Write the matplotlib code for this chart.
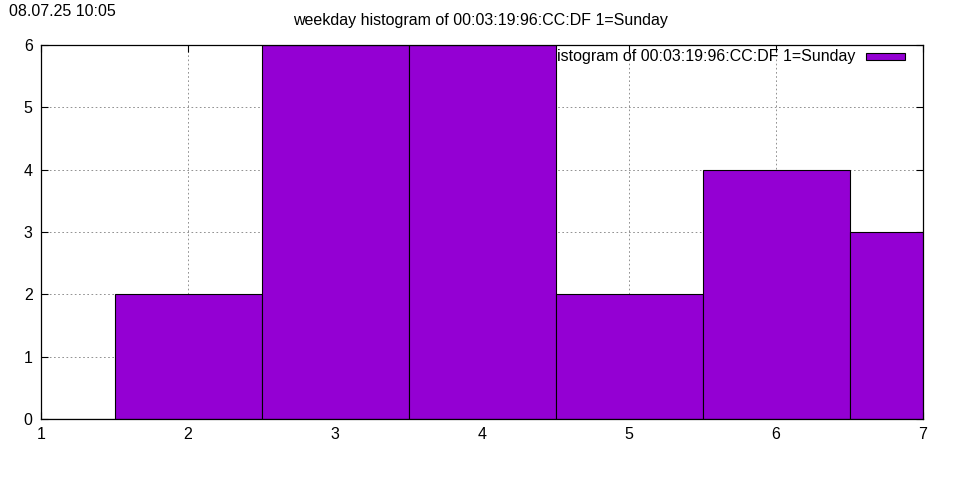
import matplotlib
matplotlib.use("Agg")
import matplotlib.pyplot as plt
from matplotlib.patches import Rectangle

#Weekday counts (1=Sunday)
weekdays = [1, 2, 3, 4, 5, 6, 7]
counts = [0, 2, 6, 6, 2, 4, 3]

title = "weekday histogram of 00:03:19:96:CC:DF 1=Sunday"
key_label = "istogram of 00:03:19:96:CC:DF 1=Sunday"
stamp = "08.07.25 10:05"

plt.rcParams['font.family'] = ['Liberation Sans', 'DejaVu Sans']
fs = 11.5

fig = plt.figure(figsize=(9.6, 4.8), dpi=100)
ax = fig.add_axes([41/960, 61/480, 882/960, 374/480])

ax.bar(weekdays, counts, width=1.0, color="#9400d3", edgecolor="black", linewidth=0.8, zorder=2)

ax.set_xlim(1, 7)
ax.set_ylim(0, 6)
ax.set_xticks(range(1, 8))
ax.set_yticks(range(0, 7))

#Dotted grid like gnuplot
ax.grid(True, color="gray", linestyle=(0, (2, 3)), linewidth=0.6, zorder=1)
ax.tick_params(direction="in", length=5, width=0.8, labelsize=fs,
               top=True, right=True, pad=6)
for s in ax.spines.values():
    s.set_linewidth(0.9)
    s.set_zorder(3)

#Key, drawn in figure coords like gnuplot does
fig.text(855/960, (480-56)/480, key_label, ha="right", va="center", fontsize=fs)
fig.patches.append(Rectangle((866/960, (480-60)/480), 39/960, 7/480,
                             transform=fig.transFigure, facecolor="#9400d3",
                             edgecolor="black", linewidth=0.8))

fig.text(0.5, (480-21)/480, title, ha="center", va="center", fontsize=fs)
fig.text(9/960, (480-12)/480, stamp, ha="left", va="center", fontsize=fs)

fig.savefig("out.png", dpi=100)
